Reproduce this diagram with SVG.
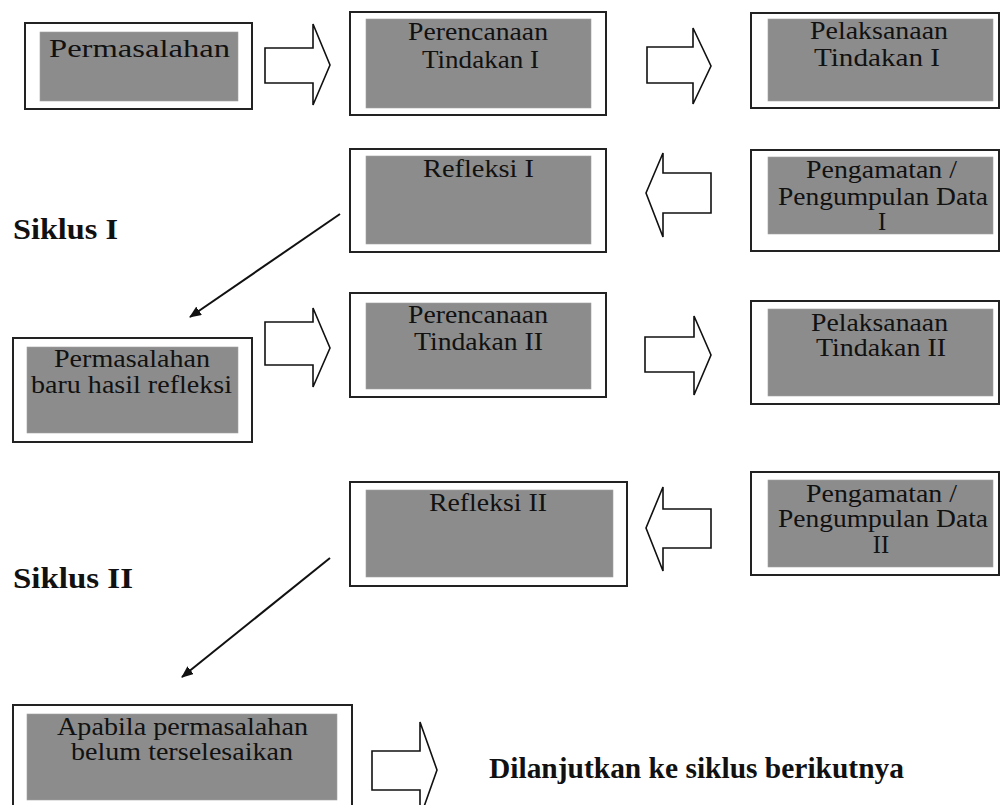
<svg xmlns="http://www.w3.org/2000/svg" width="1001" height="805" viewBox="0 0 1001 805">
<style>
.outer{fill:#fff;stroke:#222;stroke-width:2}
.inner{fill:#8c8c8c;stroke:#a0a0a0;stroke-width:0.6}
.t{font-family:"Liberation Serif","Times New Roman",serif;font-size:24.5px;fill:#111}
.b{font-family:"Liberation Serif","Times New Roman",serif;font-size:29px;font-weight:bold;fill:#111}
.blk{fill:#fff;stroke:#111;stroke-width:1.6;stroke-linejoin:miter}
.ln{stroke:#111;stroke-width:2;fill:none}
</style>
<defs>
<marker id="ah" viewBox="0 0 12 10" refX="11" refY="5" markerWidth="12" markerHeight="10" markerUnits="userSpaceOnUse" orient="auto">
<path d="M0,0 L12,5 L0,10 Z" fill="#111"/>
</marker>
</defs>
<rect width="1001" height="805" fill="#fff"/>

<g id="n1">
<rect class="outer" x="25" y="23" width="227" height="86"/>
<rect class="inner" x="40" y="32" width="198" height="69"/>
<text class="t" x="49" y="57" font-size="29" textLength="181" lengthAdjust="spacingAndGlyphs">Permasalahan</text>
</g>

<g id="n2">
<rect class="outer" x="350" y="12" width="256" height="103"/>
<rect class="inner" x="366" y="19" width="225" height="89"/>
<text class="t" x="408" y="40" textLength="140" lengthAdjust="spacingAndGlyphs">Perencanaan</text>
<text class="t" x="422" y="68" textLength="117" lengthAdjust="spacingAndGlyphs">Tindakan I</text>
</g>

<g id="n3">
<rect class="outer" x="751" y="13" width="248" height="95"/>
<rect class="inner" x="768" y="19" width="225" height="82"/>
<text class="t" x="810" y="39" textLength="138" lengthAdjust="spacingAndGlyphs">Pelaksanaan</text>
<text class="t" x="814" y="66" textLength="126" lengthAdjust="spacingAndGlyphs">Tindakan I</text>
</g>

<g id="n4">
<rect class="outer" x="350" y="149" width="256" height="103"/>
<rect class="inner" x="366" y="156" width="225" height="88"/>
<text class="t" x="423" y="177" textLength="111" lengthAdjust="spacingAndGlyphs">Refleksi I</text>
</g>

<g id="n5">
<rect class="outer" x="751" y="150" width="248" height="101"/>
<rect class="inner" x="768" y="157" width="225" height="77"/>
<text class="t" x="806" y="178" textLength="151" lengthAdjust="spacingAndGlyphs">Pengamatan /</text>
<text class="t" x="778" y="205" textLength="210" lengthAdjust="spacingAndGlyphs">Pengumpulan Data</text>
<text class="t" x="882" y="230" text-anchor="middle">I</text>
</g>

<g id="label-siklus1">
<text class="b" x="13" y="239" textLength="105" lengthAdjust="spacingAndGlyphs">Siklus I</text>
</g>

<g id="n6">
<rect class="outer" x="13" y="338" width="239" height="104"/>
<rect class="inner" x="27" y="347" width="211" height="86"/>
<text class="t" x="54" y="367" textLength="156" lengthAdjust="spacingAndGlyphs">Permasalahan</text>
<text class="t" x="31" y="393" textLength="201" lengthAdjust="spacingAndGlyphs">baru hasil refleksi</text>
</g>

<g id="n7">
<rect class="outer" x="350" y="293" width="256" height="104"/>
<rect class="inner" x="366" y="303" width="225" height="86"/>
<text class="t" x="408" y="323" textLength="140" lengthAdjust="spacingAndGlyphs">Perencanaan</text>
<text class="t" x="414" y="350" textLength="129" lengthAdjust="spacingAndGlyphs">Tindakan II</text>
</g>

<g id="n8">
<rect class="outer" x="751" y="301" width="248" height="103"/>
<rect class="inner" x="768" y="309" width="225" height="87"/>
<text class="t" x="811" y="331" textLength="137" lengthAdjust="spacingAndGlyphs">Pelaksanaan</text>
<text class="t" x="816" y="356" textLength="130" lengthAdjust="spacingAndGlyphs">Tindakan II</text>
</g>

<g id="n9">
<rect class="outer" x="350" y="482" width="277" height="104"/>
<rect class="inner" x="366" y="490" width="247" height="87"/>
<text class="t" x="429" y="511" textLength="118" lengthAdjust="spacingAndGlyphs">Refleksi II</text>
</g>

<g id="n10">
<rect class="outer" x="751" y="472" width="248" height="103"/>
<rect class="inner" x="768" y="480" width="225" height="87"/>
<text class="t" x="806" y="502" textLength="151" lengthAdjust="spacingAndGlyphs">Pengamatan /</text>
<text class="t" x="778" y="527" textLength="210" lengthAdjust="spacingAndGlyphs">Pengumpulan Data</text>
<text class="t" x="881" y="553" text-anchor="middle">II</text>
</g>

<g id="label-siklus2">
<text class="b" x="13" y="588" textLength="120" lengthAdjust="spacingAndGlyphs">Siklus II</text>
</g>

<g id="n11">
<rect class="outer" x="13" y="705" width="339" height="110"/>
<rect class="inner" x="27" y="714" width="310" height="86"/>
<text class="t" x="57" y="735" textLength="251" lengthAdjust="spacingAndGlyphs">Apabila permasalahan</text>
<text class="t" x="71" y="760" textLength="222" lengthAdjust="spacingAndGlyphs">belum terselesaikan</text>
</g>

<g id="label-lanjut">
<text class="b" x="489" y="778" font-size="23" textLength="415" lengthAdjust="spacingAndGlyphs">Dilanjutkan ke siklus berikutnya</text>
</g>

<g id="connectors">
<path class="blk" d="M265,48 L313,48 L313,24 L330,65 L313,105 L313,83 L265,83 Z"/>
<path class="blk" d="M647,47 L693,47 L693,28 L711,66 L693,104 L693,83 L647,83 Z"/>
<path class="blk" d="M711,173 L663,173 L663,153 L646,193 L663,237 L663,213 L711,213 Z"/>
<line class="ln" x1="340" y1="214" x2="190" y2="317" marker-end="url(#ah)"/>
<path class="blk" d="M265,322 L313,322 L313,308 L330,348 L313,387 L313,365 L265,365 Z"/>
<path class="blk" d="M645,337 L694,337 L694,316 L711,355 L694,395 L694,372 L645,372 Z"/>
<path class="blk" d="M711,509 L663,509 L663,487 L646,528 L663,571 L663,548 L711,548 Z"/>
<line class="ln" x1="330" y1="558" x2="182" y2="677" marker-end="url(#ah)"/>
<path class="blk" d="M372,751 L420,751 L420,722 L437,770 L420,818 L420,790 L372,790 Z"/>
</g>
</svg>
